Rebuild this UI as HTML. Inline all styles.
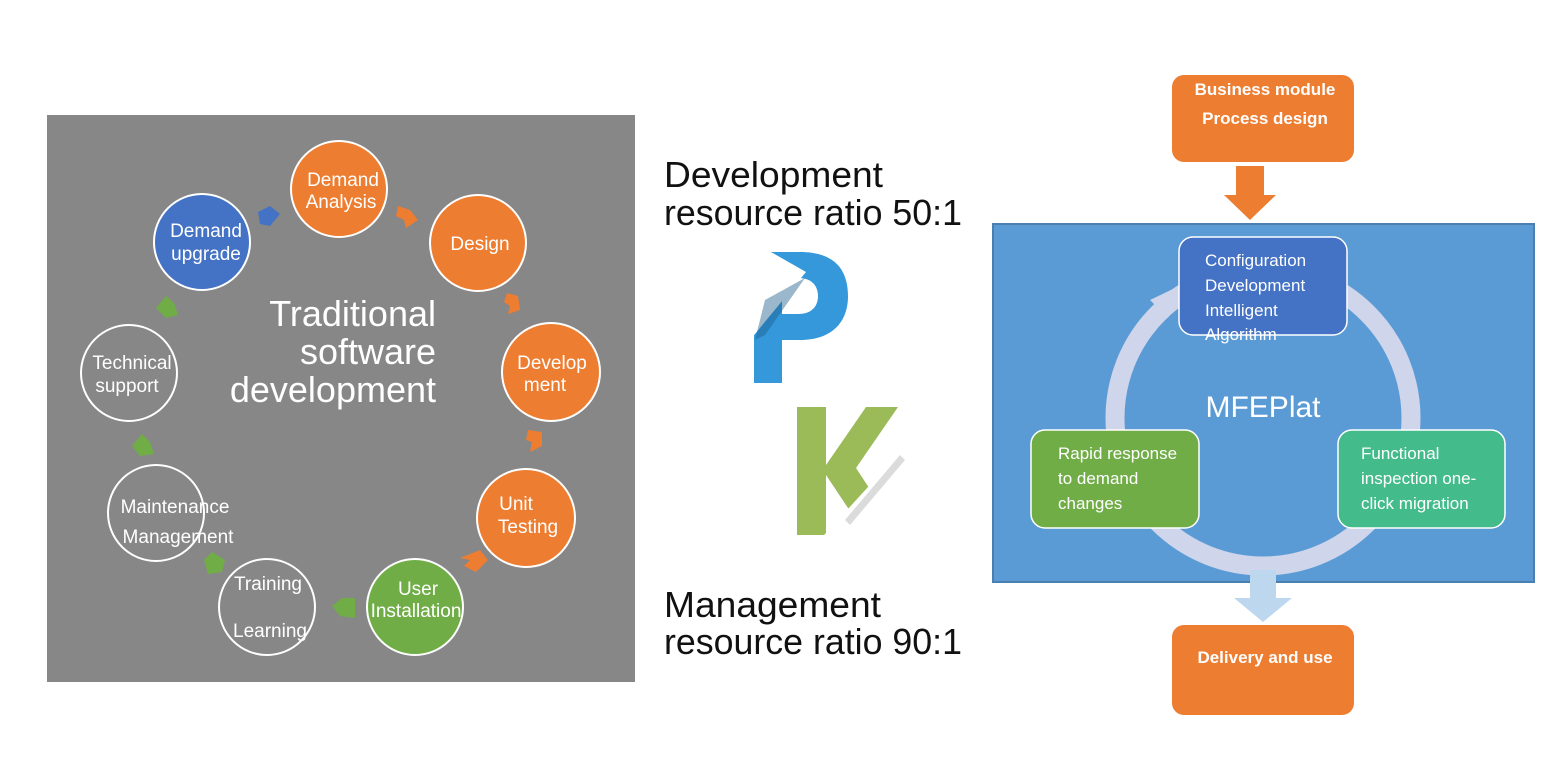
<!DOCTYPE html>
<html><head><style>
body{margin:0;background:#fff;width:1567px;height:763px;overflow:hidden}
svg{display:block;font-family:"Liberation Sans","DejaVu Sans",sans-serif}
</style></head><body>
<svg width="1567" height="763" viewBox="0 0 1567 763">
<rect x="47" y="115" width="588" height="567" fill="#878787"/>
<g stroke="#fff" stroke-width="2">
<circle cx="339" cy="189" r="48" fill="#ed7d31"/>
<circle cx="478" cy="243" r="48" fill="#ed7d31"/>
<circle cx="551" cy="372" r="49" fill="#ed7d31"/>
<circle cx="526" cy="518" r="49" fill="#ed7d31"/>
<circle cx="415" cy="607" r="48" fill="#70ad47"/>
<circle cx="267" cy="607" r="48" fill="none"/>
<circle cx="156" cy="513" r="48" fill="none"/>
<circle cx="129" cy="373" r="48" fill="none"/>
<circle cx="202" cy="242" r="48" fill="#4472c4"/>
</g>
<g fill="#ed7d31">
<polygon points="398,206 410,210 418,220 406,228 404,220 396,216"/>
<polygon points="507,293 518,296 520,310 508,314 510,306 504,302"/>
<polygon points="528,430 542,432 542,446 530,452 532,442 526,440"/>
<polygon points="480,550 488,560 476,572 464,566 470,560 460,558"/>
</g>
<g fill="#70ad47">
<polygon points="355,598 355,618 340,616 332,606 342,598"/>
<polygon points="225,560 222,572 208,574 204,560 212,552"/>
<polygon points="150,442 154,454 140,456 132,446 142,434"/>
<polygon points="174,303 178,315 166,318 156,308 166,296"/>
</g>
<polygon points="258,212 270,206 280,214 270,226 260,224" fill="#4472c4"/>
<g fill="#fff" font-size="19" text-anchor="middle">
<text x="343" y="186">Demand</text><text x="341" y="208">Analysis</text>
<text x="480" y="250">Design</text>
<text x="552" y="369">Develop</text><text x="545" y="391">ment</text>
<text x="516" y="510">Unit</text><text x="528" y="533">Testing</text>
<text x="418" y="595">User</text><text x="416" y="617">Installation</text>
<text x="268" y="590">Training</text><text x="270" y="637">Learning</text>
<text x="175" y="513">Maintenance</text><text x="178" y="543">Management</text>
<text x="132" y="369">Technical</text><text x="127" y="392">support</text>
<text x="206" y="237">Demand</text><text x="206" y="260">upgrade</text>
</g>
<g fill="#fff" font-size="36" text-anchor="end">
<text x="436" y="326">Traditional</text><text x="436" y="364">software</text><text x="436" y="402">development</text>
</g>
<g fill="#111" font-size="36">
<text x="664" y="187" textLength="219" lengthAdjust="spacingAndGlyphs">Development</text>
<text x="664" y="225" textLength="298" lengthAdjust="spacingAndGlyphs">resource ratio 50:1</text>
<text x="664" y="617" textLength="217" lengthAdjust="spacingAndGlyphs">Management</text>
<text x="664" y="654" textLength="298" lengthAdjust="spacingAndGlyphs">resource ratio 90:1</text>
</g>
<!-- P -->
<path d="M754 383 V252 H800 C835 252 848 270 848 296 C848 322 832 340 800 340 H782 V383 Z M782 278 V314 H798 C812 314 818 306 818 296 C818 286 812 278 798 278 Z" fill="#3498db" fill-rule="evenodd"/>
<polygon points="750,240 806,272 750,340 736,330" fill="#fff"/>
<polygon points="765,300 805,278 765,335 755,340" fill="#1f5f8b" opacity="0.45"/>
<!-- K -->
<path d="M797 407 H826 V465 L866 407 H898 L856 468 L900 535 H866 L826 475 V535 H797 Z" fill="#9bbb59"/>
<polygon points="900,452 935,490 900,535 830,540 815,545" fill="#fff"/>
<polygon points="845,520 900,455 905,460 850,525" fill="#888" opacity="0.3"/>
<!-- right -->
<rect x="1172" y="75" width="182" height="87" rx="12" fill="#ed7d31"/>
<g fill="#fff" font-size="17" font-weight="bold" text-anchor="middle">
<text x="1265" y="95">Business module</text><text x="1265" y="124">Process design</text>
</g>
<polygon points="1236,166 1264,166 1264,195 1276,195 1250,220 1224,195 1236,195" fill="#ed7d31"/>
<rect x="993" y="224" width="541" height="358" fill="#5b9bd5" stroke="#4a7fb0" stroke-width="2"/>
<circle cx="1263" cy="418" r="148" fill="none" stroke="#cfd5ea" stroke-width="19"/>
<polygon points="1150,300 1175,288 1168,318" fill="#cfd5ea"/>
<rect x="1179" y="237" width="168" height="98" rx="14" fill="#4472c4" stroke="#fff" stroke-width="1.5"/>
<rect x="1031" y="430" width="168" height="98" rx="14" fill="#70ad47" stroke="#fff" stroke-width="1.5"/>
<rect x="1338" y="430" width="167" height="98" rx="14" fill="#43bb8a" stroke="#fff" stroke-width="1.5"/>
<g fill="#fff" font-size="17">
<text x="1205" y="266">Configuration</text><text x="1205" y="291">Development</text><text x="1205" y="316">Intelligent</text><text x="1205" y="340">Algorithm</text>
<text x="1058" y="459">Rapid response</text><text x="1058" y="484">to demand</text><text x="1058" y="509">changes</text>
<text x="1361" y="459">Functional</text><text x="1361" y="484">inspection one-</text><text x="1361" y="509">click migration</text>
</g>
<text x="1263" y="417" fill="#fff" font-size="30" text-anchor="middle">MFEPlat</text>
<polygon points="1250,570 1276,570 1276,598 1292,598 1263,622 1234,598 1250,598" fill="#bdd7ee"/>
<rect x="1172" y="625" width="182" height="90" rx="12" fill="#ed7d31"/>
<text x="1265" y="663" fill="#fff" font-size="17" font-weight="bold" text-anchor="middle">Delivery and use</text>
</svg>
</body></html>
